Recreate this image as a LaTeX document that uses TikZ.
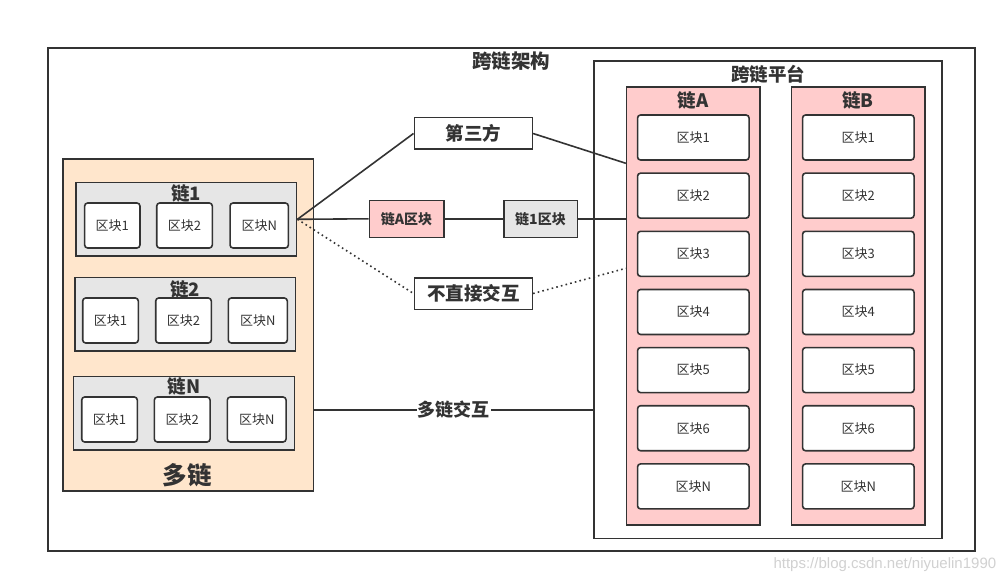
\documentclass[tikz,border=0pt]{standalone}
\usepackage{fontspec}
\setmainfont{Noto Sans CJK SC}
\newfontfamily\wmfont{Liberation Sans}
\usetikzlibrary{positioning}
\definecolor{ln}{HTML}{333333}
\definecolor{pinkfill}{HTML}{FFCCCC}
\definecolor{peachfill}{HTML}{FFE6CC}
\definecolor{grayfill}{HTML}{E6E6E6}
\tikzstyle{frame}=[draw=ln,line width=1.6pt,inner sep=0pt]
\tikzstyle{blk}=[draw=ln,line width=1.6pt,fill=white,rounded corners=3pt,inner sep=0pt,
  minimum height=45pt,text=ln,font=\fontsize{13}{13}\selectfont]
\tikzstyle{tag}=[draw=ln,line width=1.6pt,inner sep=0pt,text=ln,font=\bfseries\fontsize{18.5}{18.5}\selectfont]
\tikzstyle{ttl}=[text=ln,inner sep=0pt,font=\bfseries\fontsize{18.5}{18.5}\selectfont]
\newcommand{\newBox}[5]{\node[frame,fill=#3,minimum width=#4,minimum height=#5](#1) at (#2) {};}
\newcommand{\newBlock}[4]{\node[blk,minimum width=#3](#1) at (#4) {#2};}

\begin{document}
\begin{tikzpicture}[x=1pt,y=-1pt,line width=1.6pt,draw=ln]
  \fill[white] (0,0) rectangle (1007,583);
  \useasboundingbox (0,0) rectangle (1007,583);

  % outer frame
  \newBox{arch}{511.5,299.5}{white}{927pt}{502.5pt}
  \node[ttl,font=\bfseries\fontsize{19.5}{19.5}\selectfont] (archT) at (511,61) {跨链架构};

  % multi chain side
  \newBox{multi}{188,325}{peachfill}{250.6pt}{331.4pt}
  \node[ttl,font=\bfseries\fontsize{24.5}{24.5}\selectfont] (multiT) at (187,475) {多链};

  \newBox{c1}{186.3,219.3}{grayfill}{220.7pt}{73.3pt}
  \node[ttl] (c1T) at (186,193) {链1};
  \newBlock{c1b1}{区块1}{55.3pt}{112.3,225.5}
  \newBlock{c1b2}{区块2}{55.6pt}{184.5,225.5}
  \newBlock{c1bn}{区块N}{58.3pt}{259.2,225.5}

  \newBox{c2}{185.3,314.3}{grayfill}{220.7pt}{73.3pt}
  \node[ttl] (c2T) at (185,289) {链2};
  \newBlock{c2b1}{区块1}{55.6pt}{110.5,320.5}
  \newBlock{c2b2}{区块2}{55.6pt}{183.5,320.5}
  \newBlock{c2bn}{区块N}{59pt}{257.8,320.5}

  \newBox{cn}{183.8,413.3}{grayfill}{221pt}{73.3pt}
  \node[ttl] (cnT) at (184,386) {链N};
  \newBlock{cnb1}{区块1}{55.6pt}{109.5,419.5}
  \newBlock{cnb2}{区块2}{55.7pt}{182.2,419.5}
  \newBlock{cnbn}{区块N}{58.7pt}{256.7,419.5}

  % cross chain platform
  \newBox{platform}{768,299.8}{white}{348pt}{477pt}
  \node[ttl] (platformT) at (768,74) {跨链平台};
  \newBox{chainA}{693.3,306}{pinkfill}{133.3pt}{438pt}
  \node[ttl] (chainAT) at (693,100) {链A};
  \newBox{chainB}{858.3,306}{pinkfill}{133.3pt}{438pt}
  \node[ttl] (chainBT) at (858,100) {链B};
  \foreach \lab [count=\i from 0] in {1,2,3,4,5,6,N}{
    \newBlock{a\i}{区块\lab}{111.5pt}{693.3,137.5+58.15*\i}
    \newBlock{b\i}{区块\lab}{111.5pt}{858.3,137.5+58.15*\i}
  }

  % middle
  \node[tag,fill=white,minimum width=118pt,minimum height=31.6pt] (third) at (473.3,133.5) {第三方};
  \node[tag,fill=pinkfill,minimum width=74.4pt,minimum height=37pt,font=\bfseries\fontsize{14}{14}\selectfont] (xa) at (406.5,218.8) {链A区块};
  \node[tag,fill=grayfill,minimum width=73.6pt,minimum height=37pt,font=\bfseries\fontsize{14}{14}\selectfont] (x1) at (540.5,218.8) {链1区块};
  \node[tag,fill=white,minimum width=118pt,minimum height=31.6pt] (indirect) at (473.3,293.5) {不直接交互};

  \coordinate (hA) at (600,163.3);
  \coordinate (hB) at (600,268.3);
  \coordinate (hM) at (450,410);

  \draw (c1.east) -- (third.west);
  \draw (third.east) -- (chainA.west |- hA);
  \draw (c1.east) -- (xa.west);
  \draw (xa.east) -- (x1.west);
  \draw (x1.east) -- (x1.east -| chainA.west);
  \draw[dash pattern=on 1.6pt off 3.2pt] (c1.east) -- (indirect.west);
  \draw[dash pattern=on 1.6pt off 3.2pt] (indirect.east) -- (chainA.west |- hB);
  \draw (multi.east |- hM) -- node[fill=white,inner sep=1pt,text=ln,font=\bfseries\fontsize{18}{18}\selectfont] (mlab) {多链交互} (platform.west |- hM);

  \node[anchor=east,inner sep=0pt,text=black!18,font=\wmfont\fontsize{15}{15}\selectfont] (wm) at (997,565) {https://blog.csdn.net/niyuelin1990};
\end{tikzpicture}
\end{document}
